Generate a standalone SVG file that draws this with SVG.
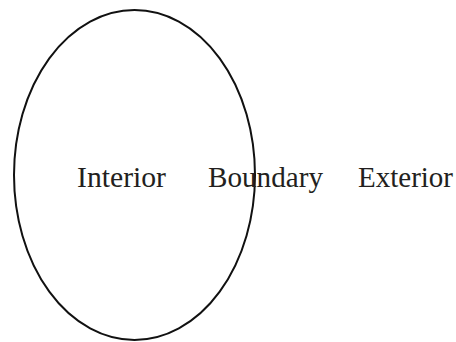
<svg xmlns="http://www.w3.org/2000/svg" width="456" height="342" viewBox="0 0 456 342">
<style>
.lbl{font-family:"Liberation Serif","Times New Roman",serif;font-size:30px;fill:#231f20}
.shape{fill:none;stroke:#111;stroke-width:2}
</style>
<rect width="456" height="342" fill="#fff"/>
<g id="region">
<ellipse class="shape" cx="134.5" cy="175" rx="120.5" ry="165"/>
</g>
<g id="connectors"></g>
<g id="interior"><text class="lbl" x="77" y="187" textLength="89" lengthAdjust="spacingAndGlyphs">Interior</text></g>
<g id="boundary"><text class="lbl" x="208" y="187" textLength="115" lengthAdjust="spacingAndGlyphs">Boundary</text></g>
<g id="exterior"><text class="lbl" x="358" y="187" textLength="95" lengthAdjust="spacingAndGlyphs">Exterior</text></g>
</svg>
